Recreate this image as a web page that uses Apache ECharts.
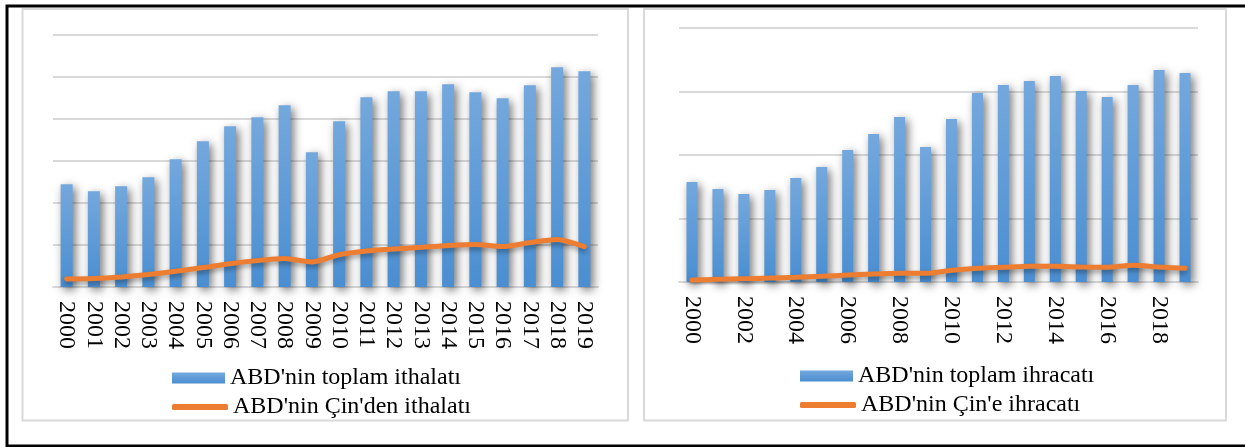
<!DOCTYPE html>
<html>
<head>
<meta charset="utf-8">
<script src="https://cdn.jsdelivr.net/npm/echarts@6/dist/echarts.min.js"></script>
<style>
  html, body { margin: 0; padding: 0; background: #fff; }
  #main { width: 1245px; height: 447px; }
</style>
</head>
<body>
<div id="main"></div>
<script>
// years on both x axes
var years = ['2000', '2001', '2002', '2003', '2004', '2005', '2006', '2007', '2008', '2009',
    '2010', '2011', '2012', '2013', '2014', '2015', '2016', '2017', '2018', '2019'];

// left panel: imports (billion $)
var importsTotal = [1223, 1139, 1199, 1306, 1520, 1735, 1913, 2020, 2163, 1604,
    1973, 2258, 2330, 2330, 2413, 2318, 2246, 2401, 2615, 2568];
var importsChina = [95, 100, 119, 148, 187, 231, 278, 314, 338, 298,
    384, 429, 452, 472, 493, 505, 481, 529, 564, 481];

// right panel: exports
var exportsTotal = [787, 732, 693, 724, 819, 906, 1039, 1165, 1299, 1063,
    1283, 1488, 1551, 1583, 1622, 1504, 1457, 1551, 1669, 1646];
var exportsChina = [16, 21, 26, 31, 37, 45, 55, 63, 68, 68,
    92, 108, 116, 124, 124, 118, 116, 131, 118, 108];

// value axes (hidden labels, only gridlines)
var leftMax = 3000, leftStep = 500;
var rightMax = 2000, rightStep = 500;

var names = {
    impTotal: "ABD'nin toplam ithalatı",
    impChina: "ABD'nin Çin'den ithalatı",
    expTotal: "ABD'nin toplam ihracatı",
    expChina: "ABD'nin Çin'e ihracatı"
};

var serif = '"Liberation Serif", "Times New Roman", serif';
var gridGray = '#d9d9d9';
var orange = '#ED7D31';

var barColor = new echarts.graphic.LinearGradient(0, 0, 0, 1, [
    {offset: 0, color: '#74A8DD'},
    {offset: 1, color: '#4A8ED1'}
]);

function xAxis(gridIndex, interval) {
    return {
        type: 'category',
        gridIndex: gridIndex,
        data: years,
        axisLine: {lineStyle: {color: gridGray, width: 2}},
        axisTick: {show: false},
        axisLabel: {
            rotate: -90,
            interval: interval,
            margin: 14,
            color: '#000',
            fontFamily: serif,
            fontSize: 24
        }
    };
}

function yAxis(gridIndex, max, step) {
    return {
        type: 'value',
        gridIndex: gridIndex,
        min: 0,
        max: max,
        interval: step,
        axisLabel: {show: false},
        axisLine: {show: false},
        axisTick: {show: false},
        splitLine: {lineStyle: {color: gridGray, width: 2}}
    };
}

function barSeries(name, idx, data, width) {
    return {
        name: name,
        type: 'bar',
        xAxisIndex: idx,
        yAxisIndex: idx,
        data: data,
        barWidth: width,
        itemStyle: {
            color: barColor,
            shadowColor: 'rgba(0,0,0,0.55)',
            shadowBlur: 10,
            shadowOffsetX: 3,
            shadowOffsetY: 3
        }
    };
}

function lineSeries(name, idx, data) {
    return {
        name: name,
        type: 'line',
        xAxisIndex: idx,
        yAxisIndex: idx,
        data: data,
        symbol: 'none',
        smooth: 0.2,
        z: 5,
        lineStyle: {
            color: orange,
            width: 5,
            cap: 'round',
            shadowColor: 'rgba(0,0,0,0.35)',
            shadowBlur: 5,
            shadowOffsetY: 3
        },
        itemStyle: {color: orange}
    };
}

function legend(name, left, top, isLine) {
    return {
        data: [isLine ? {name: name, icon: 'roundRect'} : {name: name, icon: 'rect'}],
        left: left,
        top: top,
        padding: 0,
        itemWidth: isLine ? 56 : 53,
        itemHeight: isLine ? 6 : 11,
        itemGap: 0,
        textStyle: {color: '#000', fontFamily: serif, fontSize: 24, padding: [0, 0, 0, 0]},
        selectedMode: false
    };
}

var chart = echarts.init(document.getElementById('main'));

var option = {
    animation: false,
    backgroundColor: '#fff',
    graphic: [
        {
            type: 'rect',
            shape: {x: 7, y: 6, width: 1250, height: 440},
            style: {fill: 'none', stroke: '#000', lineWidth: 3},
            z: 0
        },
        {
            type: 'rect',
            shape: {x: 22.5, y: 9, width: 605.5, height: 411.5},
            style: {fill: 'none', stroke: gridGray, lineWidth: 2},
            z: 0
        },
        {
            type: 'rect',
            shape: {x: 644, y: 9, width: 582, height: 411.5},
            style: {fill: 'none', stroke: gridGray, lineWidth: 2},
            z: 0
        }
    ],
    legend: [
        legend(names.impTotal, 172, 366, false),
        legend(names.impChina, 172, 395, true),
        legend(names.expTotal, 800, 364, false),
        legend(names.expChina, 800, 393, true)
    ],
    grid: [
        {left: 53, top: 35, width: 545, height: 252},
        {left: 679, top: 28, width: 519, height: 254}
    ],
    xAxis: [xAxis(0, 0), xAxis(1, 1)],
    yAxis: [yAxis(0, leftMax, leftStep), yAxis(1, rightMax, rightStep)],
    series: [
        barSeries(names.impTotal, 0, importsTotal, 12),
        lineSeries(names.impChina, 0, importsChina),
        barSeries(names.expTotal, 1, exportsTotal, 11),
        lineSeries(names.expChina, 1, exportsChina)
    ]
};

chart.setOption(option);
</script>
</body>
</html>
